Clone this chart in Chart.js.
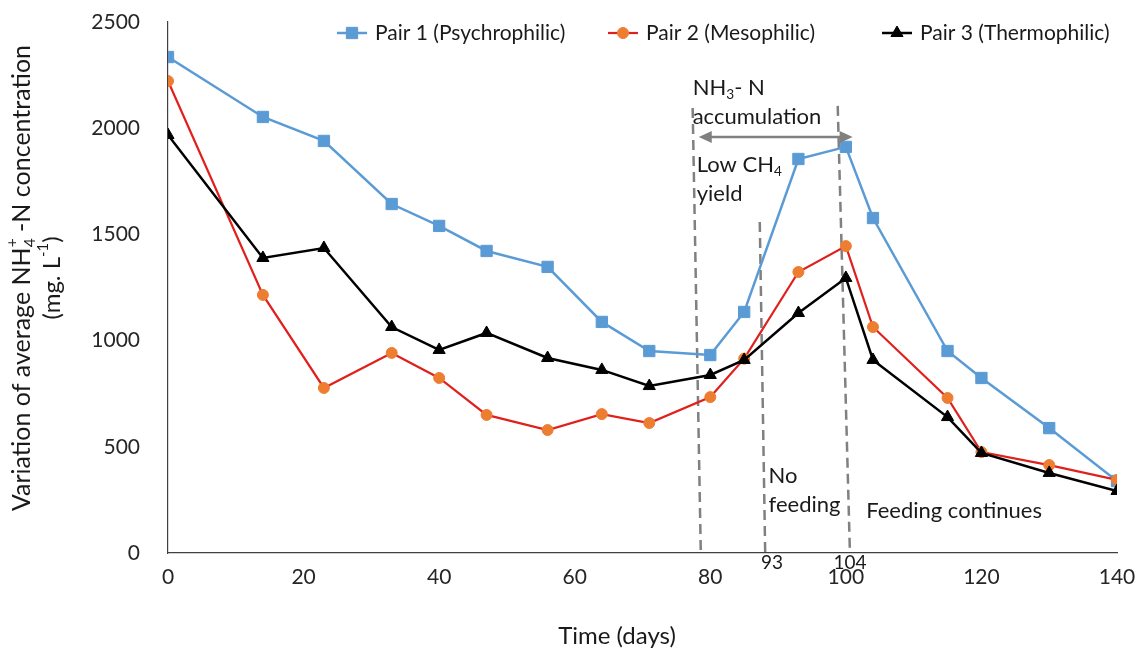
<!DOCTYPE html>
<html>
<head>
<meta charset="utf-8">
<title>NH4-N concentration</title>
<script src="https://cdn.jsdelivr.net/npm/chart.js@4.4.1/dist/chart.umd.min.js"></script>
<style>
html, body { margin: 0; padding: 0; background: #fff; }
</style>
</head>
<body>
<canvas id="graph" width="1140" height="653"></canvas>
<script>
var FONT = "Lato, 'Liberation Sans', sans-serif";

// sampling days (x) and the three series
var days  = [0, 14, 23, 33, 40, 47, 56, 64, 71, 80, 85, 93, 100, 104, 115, 120, 130, 140];
var pair1 = [2335, 2053, 1940, 1643, 1540, 1422, 1347, 1088, 951, 932, 1135, 1855, 1912, 1577, 951, 824, 588, 339];
var pair2 = [2222, 1215, 777, 942, 824, 650, 579, 654, 612, 734, 915, 1323, 1445, 1064, 730, 475, 414, 344];
var pair3 = [1968, 1389, 1436, 1064, 956, 1036, 918, 862, 786, 838, 909, 1130, 1295, 909, 640, 471, 377, 292];

var labels = ["Pair 1 (Psychrophilic)", "Pair 2 (Mesophilic)", "Pair 3 (Thermophilic)"];
var xTicks = [0, 20, 40, 60, 80, 100, 120, 140];
var yTicks = [0, 500, 1000, 1500, 2000, 2500];

// dashed phase lines, top point then bottom point (they lean a little in the original)
var phaseLines = [
    [{x: 77.4, y: 2095}, {x: 78.6, y: 0}],
    [{x: 87.3, y: 1558}, {x: 88.1, y: 0}],
    [{x: 98.8, y: 2105}, {x: 100.6, y: 0}]
];

// accumulation arrow, in data units
var arrowFrom = {x: 78.3, y: 1959};
var arrowTo   = {x: 101.0, y: 1959};

// text notes: x, y in data units, parts = [text, kind]
var notes = [
    {x: 77.4, y: 2189, size: 22, align: "left", parts: [["NH"], ["3", "sub"], ["- N"]]},
    {x: 77.4, y: 2053, size: 22, align: "left", parts: [["accumulation"]]},
    {x: 78.0, y: 1827, size: 22, align: "left", parts: [["Low CH"], ["4", "sub"]]},
    {x: 78.0, y: 1690, size: 22, align: "left", parts: [["yield"]]},
    {x: 88.6, y: 363, size: 22, align: "left", parts: [["No"]]},
    {x: 88.6, y: 226, size: 22, align: "left", parts: [["feeding"]]},
    {x: 103.0, y: 198, size: 22, align: "left", parts: [["Feeding continues"]]},
    {x: 89.1, y: -47, size: 19, align: "center", parts: [["93"]]},
    {x: 100.6, y: -47, size: 19, align: "center", parts: [["104"]]}
];

// legend and title layout, canvas pixels
var legendX = [337, 608, 882];
var legendY = 33;

function drawParts(ctx, parts, x, y, size, align) {
    var segs = parts.map(function(p) {
        var small = p[1] === "sub" || p[1] === "sup" || p[1] === "subsup";
        var s = small ? size * 0.62 : size;
        ctx.font = s + "px " + FONT;
        var w = ctx.measureText(p[0]).width;
        if (p[1] === "subsup") {
            w = Math.max(w, ctx.measureText(p[2]).width);
        }
        return {t: p[0], t2: p[2], kind: p[1], s: s, w: w};
    });
    var total = 0;
    segs.forEach(function(sg) { total += sg.w; });
    var cx = align === "center" ? x - total / 2 : x;
    ctx.textAlign = "left";
    ctx.textBaseline = "middle";
    segs.forEach(function(sg) {
        ctx.font = sg.s + "px " + FONT;
        if (sg.kind === "sub") {
            ctx.fillText(sg.t, cx, y + size * 0.3);
        } else if (sg.kind === "sup") {
            ctx.fillText(sg.t, cx, y - size * 0.35);
        } else if (sg.kind === "subsup") {
            ctx.fillText(sg.t, cx, y + size * 0.3);
            ctx.fillText(sg.t2, cx, y - size * 0.4);
        } else {
            ctx.fillText(sg.t, cx, y);
        }
        cx += sg.w;
    });
}

function arrowHead(ctx, x, y, dir) {
    ctx.beginPath();
    ctx.moveTo(x, y);
    ctx.lineTo(x - dir * 13, y - 6);
    ctx.lineTo(x - dir * 13, y + 6);
    ctx.closePath();
    ctx.fill();
}

var extras = {
    id: "extras",
    afterDatasetsDraw: function(chart) {
        var ctx = chart.ctx;
        var xs = chart.scales.x, ys = chart.scales.y;
        ctx.save();

        // arrow
        var x1 = xs.getPixelForValue(arrowFrom.x), x2 = xs.getPixelForValue(arrowTo.x);
        var ya = ys.getPixelForValue(arrowFrom.y);
        ctx.strokeStyle = "#808080";
        ctx.fillStyle = "#808080";
        ctx.lineWidth = 2.5;
        ctx.beginPath();
        ctx.moveTo(x1 + 8, ya);
        ctx.lineTo(x2 - 8, ya);
        ctx.stroke();
        arrowHead(ctx, x1, ya, -1);
        arrowHead(ctx, x2, ya, 1);

        // notes
        ctx.fillStyle = "#1a1a1a";
        notes.forEach(function(n) {
            drawParts(ctx, n.parts, xs.getPixelForValue(n.x), ys.getPixelForValue(n.y), n.size, n.align);
        });
        ctx.restore();
    },
    afterDraw: function(chart) {
        var ctx = chart.ctx;
        ctx.save();

        // legend: short line with the marker on it
        chart.data.datasets.slice(0, 3).forEach(function(ds, i) {
            var lx = legendX[i];
            ctx.strokeStyle = ds.borderColor;
            ctx.lineWidth = ds.borderWidth;
            ctx.beginPath();
            ctx.moveTo(lx, legendY);
            ctx.lineTo(lx + 30, legendY);
            ctx.stroke();
            ctx.fillStyle = ds.pointBackgroundColor;
            ctx.strokeStyle = ds.pointBorderColor;
            ctx.lineWidth = ds.pointBorderWidth;
            Chart.helpers.drawPoint(ctx, {
                pointStyle: ds.pointStyle, radius: ds.pointRadius,
                rotation: 0, borderWidth: ds.pointBorderWidth
            }, lx + 15, legendY);
            ctx.fillStyle = "#1a1a1a";
            drawParts(ctx, [[ds.label]], lx + 38, legendY, 21, "left");
        });

        // x title
        ctx.fillStyle = "#1a1a1a";
        drawParts(ctx, [["Time (days)"]], 617, 636, 24, "center");

        // y title, two rotated lines
        ctx.translate(22, 278);
        ctx.rotate(-Math.PI / 2);
        drawParts(ctx, [["Variation of average NH"], ["4", "subsup", "+"], [" -N concentration"]], 0, 0, 25, "center");
        drawParts(ctx, [["(mg. L"], ["-1", "sup"], [")"]], 0, 30, 24, "center");
        ctx.restore();
    }
};

function toPoints(vals) {
    return vals.map(function(v, i) { return {x: days[i], y: v}; });
}

var datasets = [
    {
        label: labels[0], data: toPoints(pair1), order: 2,
        borderColor: "#5B9BD5", borderWidth: 2.5,
        pointStyle: "rect", pointRadius: 8, pointBorderWidth: 1,
        pointBackgroundColor: "#5B9BD5", pointBorderColor: "#5B9BD5"
    },
    {
        label: labels[1], data: toPoints(pair2), order: 1,
        borderColor: "#E0201C", borderWidth: 2.2,
        pointStyle: "circle", pointRadius: 5.5, pointBorderWidth: 1,
        pointBackgroundColor: "#ED7D31", pointBorderColor: "#ED7D31"
    },
    {
        label: labels[2], data: toPoints(pair3), order: 0,
        borderColor: "#000000", borderWidth: 2.5,
        pointStyle: "triangle", pointRadius: 7, pointBorderWidth: 1,
        pointBackgroundColor: "#000000", pointBorderColor: "#000000"
    }
];

phaseLines.forEach(function(pts) {
    datasets.push({
        label: "", data: pts, order: 5, clip: false,
        borderColor: "#808080", borderWidth: 2.5, borderDash: [10, 6],
        pointRadius: 0
    });
});

var chart = new Chart(document.getElementById("graph").getContext("2d"), {
    type: "line",
    data: {datasets: datasets},
    plugins: [extras],
    options: {
        responsive: false,
        animation: false,
        layout: {padding: {top: 22, right: 23, bottom: 0, left: 0}},
        plugins: {legend: {display: false}, tooltip: {enabled: false}},
        elements: {line: {tension: 0}},
        scales: {
            x: {
                type: "linear", min: 0, max: 140,
                afterBuildTicks: function(s) { s.ticks = xTicks.map(function(v) { return {value: v}; }); },
                afterFit: function(s) { s.height = 100; s.paddingLeft = 0; s.paddingRight = 0; },
                grid: {display: false, drawTicks: false},
                border: {color: "#404040", width: 1.2},
                ticks: {font: {family: FONT, size: 21}, color: "#262626", padding: 12, maxRotation: 0,
                        callback: function(v) { return String(v); }}
            },
            y: {
                type: "linear", min: 0, max: 2500,
                afterBuildTicks: function(s) { s.ticks = yTicks.map(function(v) { return {value: v}; }); },
                afterFit: function(s) { s.width = 168; s.paddingTop = 0; s.paddingBottom = 0; },
                grid: {display: false, drawTicks: false},
                border: {color: "#404040", width: 1.2},
                ticks: {font: {family: FONT, size: 21}, color: "#262626", padding: 28,
                        callback: function(v) { return String(v); }}
            }
        }
    }
});
</script>
</body>
</html>
